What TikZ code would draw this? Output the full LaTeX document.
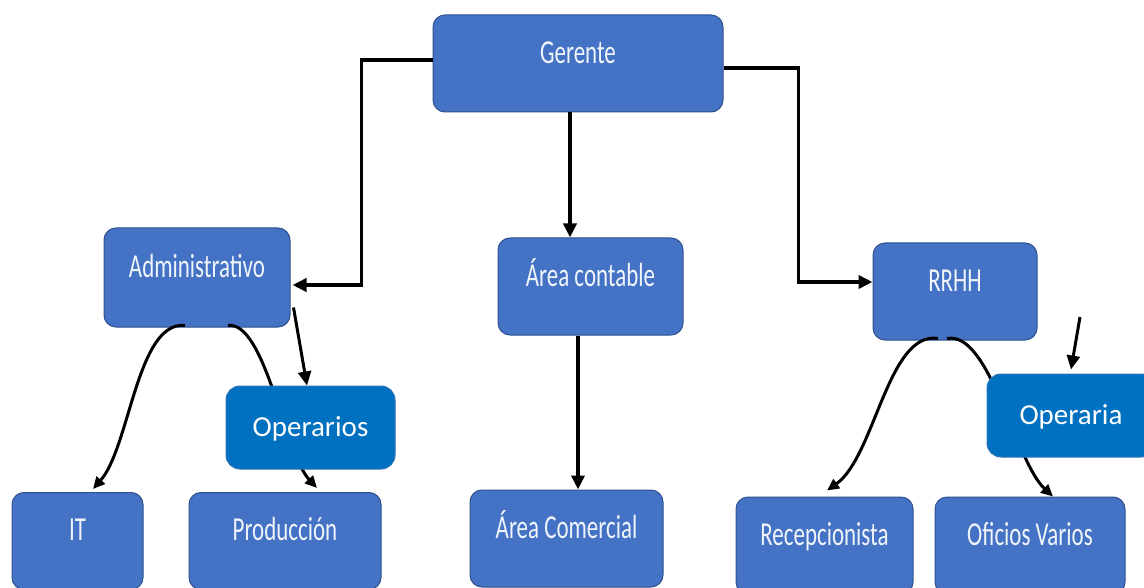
\documentclass[tikz,border=0pt]{standalone}
\usepackage{fontspec}
\newfontfamily\boxfont[FakeStretch=0.685]{Carlito}
\newfontfamily\opfont{Carlito}
\usetikzlibrary{arrows.meta,calc}
\definecolor{boxblue}{HTML}{4472C4}
\definecolor{boxedge}{HTML}{2F528F}
\definecolor{opblue}{HTML}{0070C0}
\definecolor{opedge}{HTML}{2E75B6}
\definecolor{boxtext}{HTML}{F0F4FB}
\begin{document}
\begin{tikzpicture}[x=1pt,y=-1pt,
  orgbox/.style={draw=boxedge, line width=1pt, fill=boxblue, rounded corners=12pt,
    text=boxtext, font=\boxfont\fontsize{33.5}{40}\selectfont,
    text height=24pt, text depth=24.6pt, inner sep=0pt, minimum height=97pt},
  opbox/.style={draw=opedge, line width=1pt, fill=opblue, rounded corners=14pt,
    text=white, font=\opfont\fontsize{29}{34}\selectfont,
    text height=18.7pt, text depth=0pt, inner sep=0pt,
    minimum width=169pt, minimum height=83pt},
  conn/.style={line width=3.5pt, -{Triangle[length=14pt,width=13pt]}},
  freearrow/.style={line width=3pt, -{Triangle[length=14pt,width=13pt]}},
  curvearrow/.style={line width=3pt, -{Triangle[length=12pt,width=11pt]}},
]
\useasboundingbox (0,0) rectangle (1144,588);
\clip (0,0) rectangle (1144,588);
\fill[white] (0,0) rectangle (1144,588);

\node[orgbox, minimum width=290pt] (g) at (578,63.5) {Gerente};
\node[orgbox, minimum width=186pt, minimum height=99pt] (adm) at (197,277.5) {Administrativo};
\node[orgbox, minimum width=185pt] (ac) at (590.5,286.5) {Área contable};
\node[orgbox, minimum width=164pt] (rh) at (955,291.5) {RRHH};
\node[orgbox, minimum width=131pt] (it) at (77.5,541) {IT};
\node[orgbox, minimum width=192pt] (prod) at (285,541) {Producción};
\node[orgbox, minimum width=193pt] (com) at (566.5,538.5) {Área Comercial};
\node[orgbox, minimum width=177pt] (rec) at (824.5,545.5) {Recepcionista};
\node[orgbox, minimum width=190pt] (ofi) at (1030,545.5) {Oficios Varios};

\draw[conn] ($(g.west)+(0,-3.5)$) -- ++(-71,0) |- ($(adm.east)+(2,7.5)$);
\draw[conn] ($(g.east)+(0,4.5)$) -- ++(75,0) |- ($(rh.west)+(0,-9.5)$);
\coordinate (gs) at ($(g.south)+(-8,0)$);
\draw[conn] (gs) -- (gs |- ac.north);
\coordinate (acs) at ($(ac.south)+(-12.5,0)$);
\draw[conn] (acs) -- (acs |- com.north);

\draw[curvearrow] ($(adm.south)+(-12,-2)$) .. controls +(-48,-5) and +(37,-42) .. ($(it.north)+(15.5,-3)$);
\draw[curvearrow] ($(adm.south)+(31,-2)$) .. controls +(37,-5) and +(-32,-34) .. ($(prod.north)+(32,-4)$);
\draw[curvearrow] ($(rh.south)+(-17,-2)$) .. controls +(-50,-8) and +(48,-34) .. ($(rec.north)+(2.5,-6)$);
\draw[curvearrow] ($(rh.south)+(-8,-2)$) .. controls +(43,-8) and +(-38,-35) .. ($(ofi.north)+(23,0)$);

\node[opbox] (op) at (310.5,427.5) {Operarios};
\node[opbox, minimum width=168pt] (opa) at (1071,415.5) {Operaria};

\coordinate (a1) at ($(adm.south east)+(3,-20)$);
\draw[freearrow] (a1) -- ($(op.north)+(-3.5,0)$);
\coordinate (a2) at (1080,317);
\draw[freearrow] (a2) -- ($(opa.north)+(0,-4)$);
\end{tikzpicture}
\end{document}
